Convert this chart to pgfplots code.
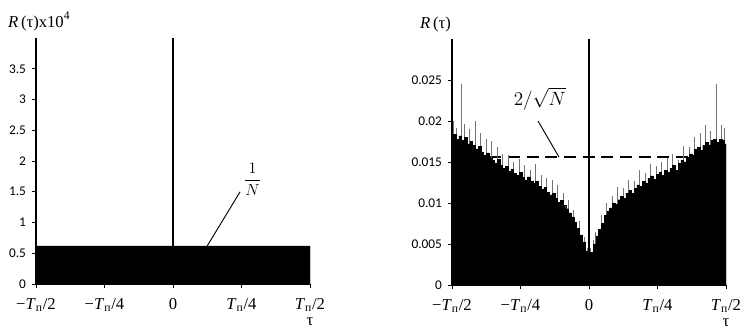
\documentclass[border=0pt]{standalone}
\usepackage{pgfplots}
\pgfplotsset{compat=1.18}
\usepackage{fontspec}
\setmainfont{Liberation Serif}
\newfontfamily\carlito{Carlito}

\pgfplotsset{
  mystyle/.style={
    scale only axis, anchor=south west,
    width=205.5pt, height=184.5pt,
    xmin=-1, xmax=1, ymin=0,
    axis x line=bottom, axis y line=left,
    axis line style={-, line width=0.9pt, black},
    tick align=outside, major tick length=3pt,
    tick style={black, line width=0.6pt},
    scaled y ticks=false,
    xtick={-1,-0.5,0,0.5,1},
    xticklabels={−\textit{T}\textsubscript{п}/2, −\textit{T}\textsubscript{п}/4, 0, \textit{T}\textsubscript{п}/4, \textit{T}\textsubscript{п}/2},
    xticklabel style={font=\fontsize{12.5}{14}\selectfont, inner sep=0.5pt, yshift=-7pt},
    yticklabel style={font=\carlito\fontsize{10}{12}\selectfont, xshift=-1pt},
    xlabel={τ},
    xlabel style={font=\fontsize{12.5}{14}\selectfont, at={(rel axis cs:1,0)}, anchor=center, yshift=-28.5pt, inner sep=0pt},
    clip=true,
  }
}

\begin{document}
\begin{tikzpicture}
\useasboundingbox (0,0) rectangle (562.5pt,248.25pt);

% ---------------- left panel ----------------
\begin{axis}[mystyle, at={(27pt,35.25pt)}, ymax=4,
  ytick={0,0.5,1,1.5,2,2.5,3,3.5},
  yticklabels={0,0.5,1,1.5,2,2.5,3,3.5},
  ylabel={\textit{R}\,(τ)x10\raisebox{1.5pt}{\textsuperscript{4}}},
  ylabel style={rotate=-90, at={(rel axis cs:0,1)}, anchor=base west, xshift=-24.5pt, yshift=8pt, font=\fontsize{12.5}{14}\selectfont},
]
\addplot[fill=black, draw=black] coordinates {(-1,0) (-1,0.62) (1,0.62) (1,0)} \closedcycle;
\addplot[black, line width=1.5pt] coordinates {(0,0) (0,4)};
\draw[line width=0.7pt] (axis cs:0.25,0.62) -- (axis cs:0.49,1.5);
\node[font=\fontsize{13}{15}\selectfont] at (axis cs:0.58,1.7) {$\displaystyle\frac{1}{N}$};
\end{axis}

% ---------------- right panel ----------------
\begin{axis}[mystyle, at={(339pt,34.5pt)}, ymax=0.03,
  ytick={0,0.005,0.01,0.015,0.02,0.025},
  yticklabels={0,0.005,0.01,0.015,0.02,0.025},
  ylabel={\textit{R}\,(τ)},
  ylabel style={rotate=-90, at={(rel axis cs:0,1)}, anchor=base west, xshift=-27.5pt, yshift=8pt, font=\fontsize{12.5}{14}\selectfont},
]
% threshold 2/sqrt(N)
\addplot[black, line width=1.5pt, dash pattern=on 9pt off 5pt] coordinates {(-1,0.0156) (1,0.0156)};
% narrow spikes (behind the bulk)
\addplot[ycomb, draw=black!55, line width=0.7pt] coordinates {
(-0.99,0.0200) (-0.97,0.0192) (-0.934,0.0245) (-0.91,0.0196) (-0.87,0.0190)
(-0.83,0.0200) (-0.79,0.0185) (-0.75,0.0178) (-0.71,0.0176) (-0.67,0.0168)
(-0.63,0.0160) (-0.59,0.0158) (-0.55,0.0150) (-0.51,0.0154) (-0.47,0.0146)
(-0.43,0.0140) (-0.39,0.0148) (-0.35,0.0134) (-0.31,0.0130) (-0.27,0.0128)
(-0.23,0.0122) (-0.19,0.0112) (-0.15,0.0104) (-0.11,0.0092) (-0.07,0.0078)
(-0.03,0.0058) (-0.01,0.0045)
(0.01,0.0045) (0.03,0.0055) (0.05,0.0065) (0.09,0.0085) (0.13,0.0100)
(0.17,0.0108) (0.21,0.0120) (0.25,0.0118) (0.29,0.0128) (0.33,0.0127)
(0.37,0.0140) (0.41,0.0136) (0.45,0.0148) (0.49,0.0145) (0.53,0.0150)
(0.57,0.0155) (0.61,0.0160) (0.65,0.0152) (0.69,0.0170) (0.73,0.0168)
(0.77,0.0180) (0.81,0.0185) (0.85,0.0195) (0.89,0.0188) (0.934,0.0245)
(0.97,0.0195) (0.99,0.0192)
};
% bulk of the correlation values
\addplot[fill=black, draw=black, line width=0.3pt, const plot mark mid] coordinates {
(-1.00,0.0180) (-0.98,0.0184) (-0.96,0.0178) (-0.94,0.0182) (-0.92,0.0176)
(-0.90,0.0180) (-0.88,0.0172) (-0.86,0.0175) (-0.84,0.0170) (-0.82,0.0166)
(-0.80,0.0169) (-0.78,0.0162) (-0.76,0.0158) (-0.74,0.0161) (-0.72,0.0155)
(-0.70,0.0152) (-0.68,0.0149) (-0.66,0.0153) (-0.64,0.0146) (-0.62,0.0142)
(-0.60,0.0145) (-0.58,0.0139) (-0.56,0.0141) (-0.54,0.0136) (-0.52,0.0134)
(-0.50,0.0137) (-0.48,0.0131) (-0.46,0.0128) (-0.44,0.0132) (-0.42,0.0126)
(-0.40,0.0124) (-0.38,0.0127) (-0.36,0.0120) (-0.34,0.0117) (-0.32,0.0119)
(-0.30,0.0113) (-0.28,0.0110) (-0.26,0.0112) (-0.24,0.0106) (-0.22,0.0101)
(-0.20,0.0103) (-0.18,0.0097) (-0.16,0.0093) (-0.14,0.0088) (-0.12,0.0083)
(-0.10,0.0076) (-0.08,0.0069) (-0.06,0.0061) (-0.04,0.0052) (-0.02,0.0041)
(0.00,0.0030)
(0.02,0.0040) (0.04,0.0050) (0.06,0.0060) (0.08,0.0068) (0.10,0.0075)
(0.12,0.0085) (0.14,0.0090) (0.16,0.0094) (0.18,0.0100) (0.20,0.0098)
(0.22,0.0104) (0.24,0.0108) (0.26,0.0106) (0.28,0.0112) (0.30,0.0115)
(0.32,0.0112) (0.34,0.0118) (0.36,0.0122) (0.38,0.0120) (0.40,0.0126)
(0.42,0.0124) (0.44,0.0130) (0.46,0.0133) (0.48,0.0129) (0.50,0.0135)
(0.52,0.0138) (0.54,0.0134) (0.56,0.0140) (0.58,0.0137) (0.60,0.0142)
(0.62,0.0146) (0.64,0.0140) (0.66,0.0148) (0.68,0.0152) (0.70,0.0150)
(0.72,0.0156) (0.74,0.0160) (0.76,0.0158) (0.78,0.0165) (0.80,0.0168)
(0.82,0.0164) (0.84,0.0170) (0.86,0.0174) (0.88,0.0171) (0.90,0.0176)
(0.92,0.0178) (0.94,0.0174) (0.96,0.0178) (0.98,0.0176) (1.00,0.0172)
} \closedcycle;
\addplot[black, line width=1.5pt] coordinates {(0,0) (0,0.03)};
\draw[line width=0.7pt] (axis cs:-0.219,0.0156) -- (axis cs:-0.372,0.0200);
\node[font=\fontsize{14}{16}\selectfont] at (axis cs:-0.36,0.0227) {$2\big/\sqrt{N}$};
\end{axis}
\end{tikzpicture}
\end{document}
